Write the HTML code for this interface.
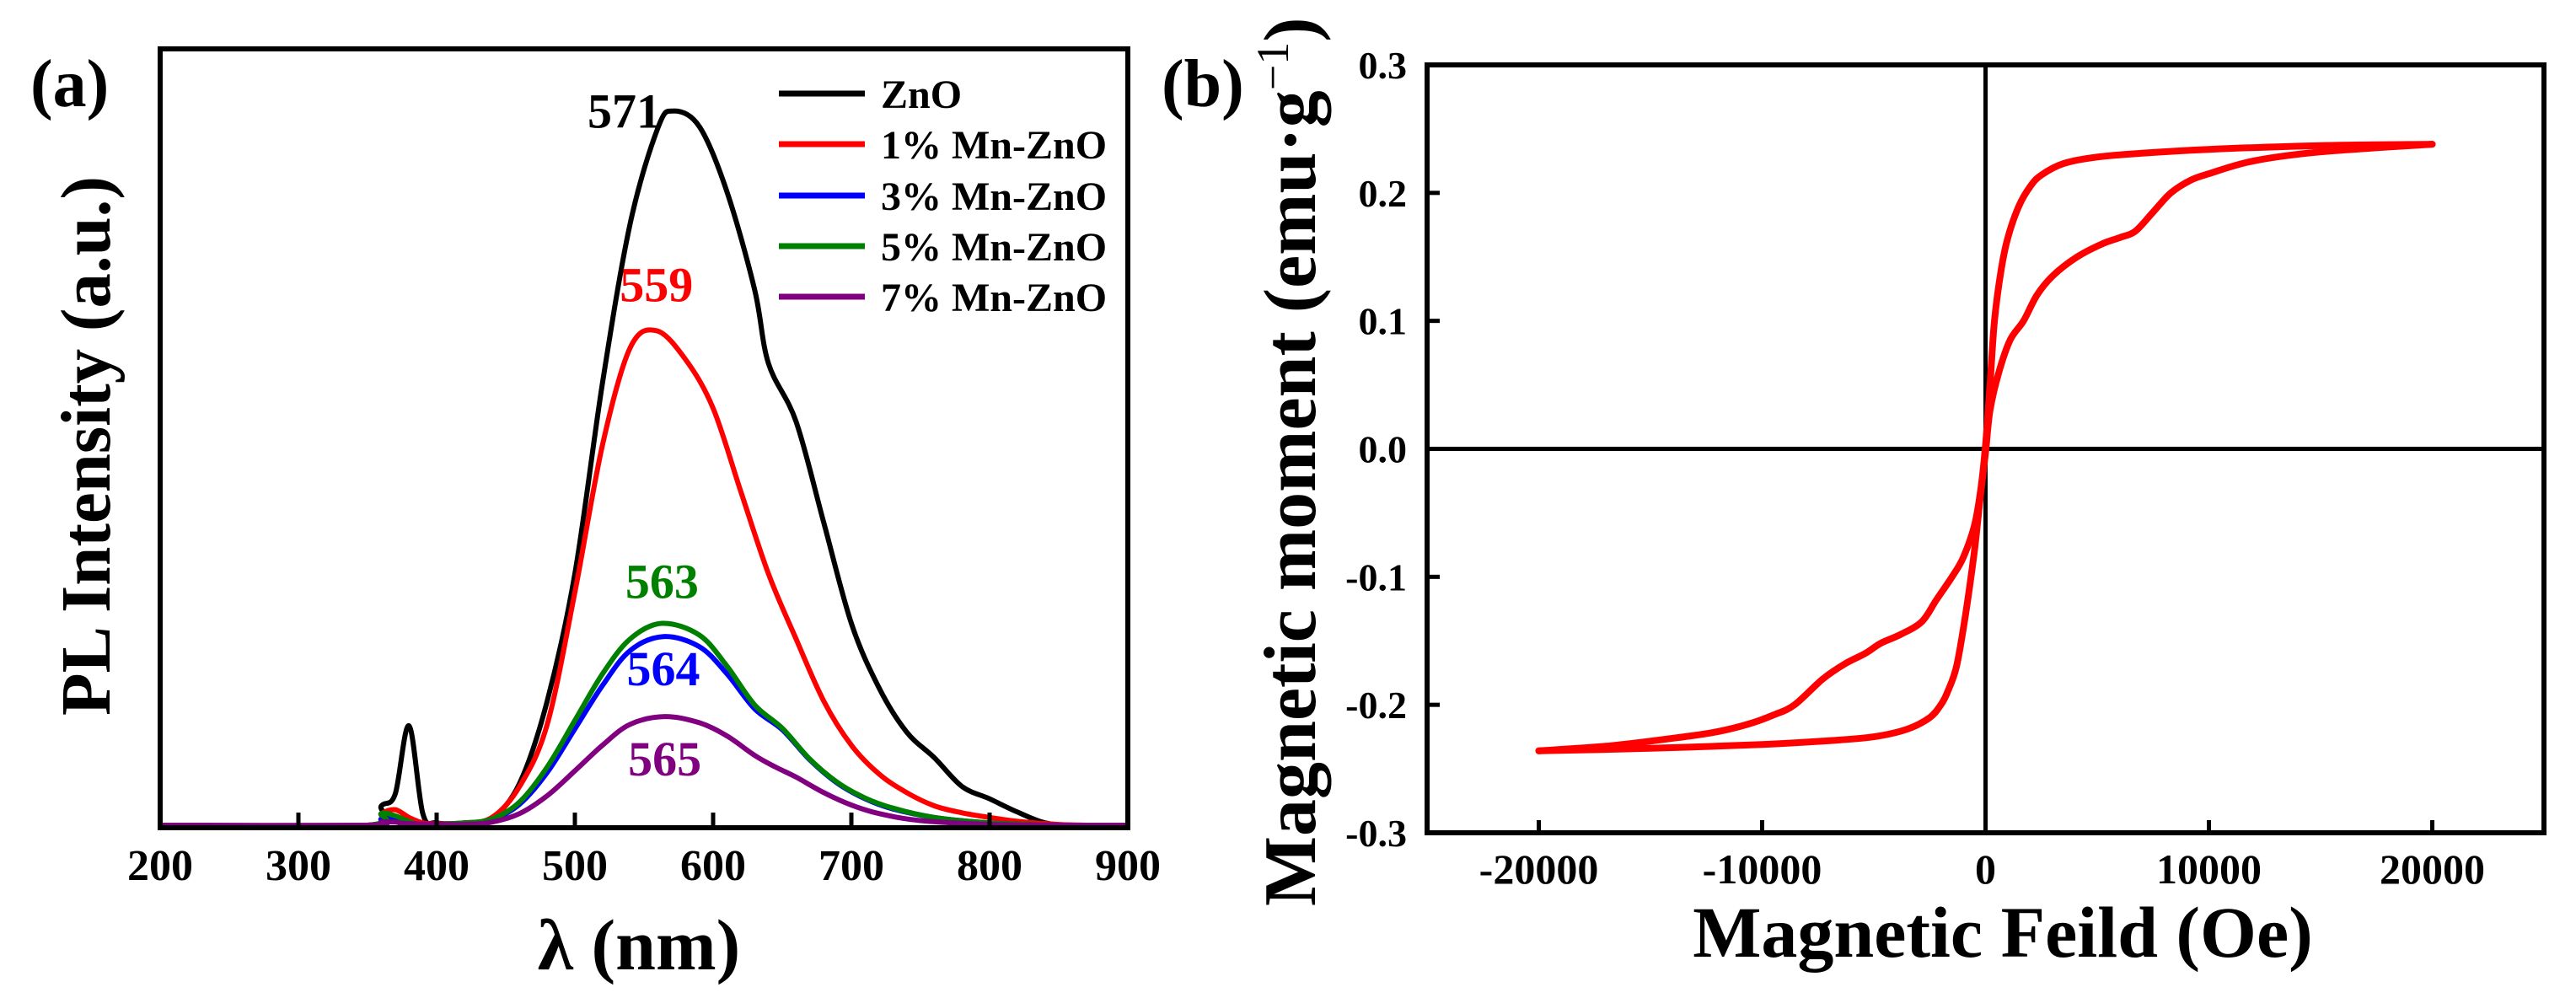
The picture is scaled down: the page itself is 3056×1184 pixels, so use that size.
<!DOCTYPE html>
<html><head><meta charset="utf-8"><style>
html,body{margin:0;padding:0;background:#fff;}
svg{display:block;font-family:"Liberation Serif","DejaVu Serif",serif;font-weight:bold;}
</style></head>
<body>
<svg id="fig" width="3056" height="1184" viewBox="0 0 3056 1184" xmlns="http://www.w3.org/2000/svg">
<rect width="3056" height="1184" fill="#fff"/>
<g id="pa"></g>
<g id="pb"></g>
</svg>
<script>
// ---- Panel (a) data ----
const plXTicks = [200,300,400,500,600,700,800,900];
const znoX = [200,350,360,370,380,390,400,420,440,460,480,500,520,540,560,571,590,610,630,640,660,680,700,720,740,760,780,800,820,840,860,900];
const znoY = [0,0,2.5,4,12.8,1.5,0.3,0.3,0.9,5.4,16,32.4,57,77.5,89.8,92,90,81.6,69,59.5,52,39,26,17.7,12,8.7,5,3.4,1.7,0.3,0,0];
const mn1X = [200,350,360,370,380,390,400,420,440,460,480,500,520,540,559,580,600,620,640,660,680,700,720,740,760,780,800,820,850,870,900];
const mn1Y = [0,0,1.5,2,1,0.3,0.2,0.3,1,5,13,30,49,61.5,63.7,60,53.7,43,32.4,24,16,10.3,6.6,4.2,2.5,1.6,1,0.5,0.1,0,0];
const mn3X = [200,350,360,370,380,390,420,440,460,480,500,520,540,564,590,610,630,650,670,690,710,730,760,800,850,900];
const mn3Y = [0,0,0.8,0.7,0.3,0.1,0.2,0.7,2.7,6.8,12.4,18,22.5,24.3,23,19.5,15,12.3,8.4,5.4,3.4,2.1,1,0.3,0,0];
const mn5X = [200,350,360,370,380,390,420,440,460,480,500,520,540,563,590,610,630,650,670,690,710,730,760,800,850,900];
const mn5Y = [0,0,1.5,1.2,0.5,0.1,0.3,0.8,3,7.5,13.5,19.5,24,26,24.5,20.5,15.5,12.5,8.5,5.5,3.5,2.2,1,0.3,0,0];
const mn7X = [200,350,360,370,380,420,440,460,480,500,520,540,565,590,610,630,645,660,680,700,720,750,800,850,900];
const mn7Y = [0,0,0.4,0.4,0.2,0.1,0.4,1.5,3.8,7,10.3,13,14,13.2,11.5,9,7.5,6.2,4.2,2.6,1.5,0.6,0.1,0,0];
const legendLabels = ["ZnO","1% Mn-ZnO","3% Mn-ZnO","5% Mn-ZnO","7% Mn-ZnO"];
const peakLabels = ["571","559","564","563","565"];
const peakPos = [[571,92],[559,63.7],[564,24.3],[563,26],[565,14]];
// ---- Panel (b) data ----
const hXTicks = [-20000,-10000,0,10000,20000];
const hYTicks = [0.3,0.2,0.1,0.0,-0.1,-0.2,-0.3];
const hYTickLabels = ["0.3","0.2","0.1","0.0","-0.1","-0.2","-0.3"];
const descX = [20000,15000,10000,7000,5000,3500,2500,2000,1500,1000,700,400,200,0,-200,-500,-1000,-1500,-2200,-2850,-3800,-4700,-5400,-6300,-7300,-8550,-9500,-10600,-12000,-13500,-16800,-20000];
const descY = [0.238,0.237,0.234,0.231,0.228,0.223,0.214,0.205,0.19,0.165,0.14,0.1,0.05,0.003,-0.03,-0.06,-0.085,-0.1,-0.118,-0.135,-0.145,-0.152,-0.16,-0.168,-0.18,-0.2,-0.208,-0.215,-0.221,-0.225,-0.232,-0.236];
const ascX = [-20000,-15000,-10000,-7000,-5000,-3500,-2500,-2000,-1700,-1300,-900,-500,-250,0,200,600,1100,1700,2300,3000,4100,5200,6000,6700,7500,8300,9200,10000,12000,15000,20000];
const ascY = [-0.236,-0.234,-0.231,-0.228,-0.225,-0.219,-0.21,-0.2,-0.19,-0.17,-0.13,-0.08,-0.04,-0.003,0.03,0.06,0.085,0.1,0.12,0.135,0.15,0.16,0.165,0.17,0.185,0.2,0.21,0.215,0.225,0.232,0.238];

const NS = "http://www.w3.org/2000/svg";
function mk(parent, tag, attrs, text){
  const e = document.createElementNS(NS, tag);
  for (const k in attrs) e.setAttribute(k, attrs[k]);
  if (text !== undefined) e.textContent = text;
  parent.appendChild(e);
  return e;
}
function smooth(pts){
  let d = "M"+pts[0][0].toFixed(1)+","+pts[0][1].toFixed(1);
  for (let i=0;i<pts.length-1;i++){
    const p0=pts[Math.max(0,i-1)], p1=pts[i], p2=pts[i+1], p3=pts[Math.min(pts.length-1,i+2)];
    const c1=[p1[0]+(p2[0]-p0[0])/6, p1[1]+(p2[1]-p0[1])/6];
    const c2=[p2[0]-(p3[0]-p1[0])/6, p2[1]-(p3[1]-p1[1])/6];
    d+="C"+c1[0].toFixed(1)+","+c1[1].toFixed(1)+" "+c2[0].toFixed(1)+","+c2[1].toFixed(1)+" "+p2[0].toFixed(1)+","+p2[1].toFixed(1);
  }
  return d;
}
// ===== Panel (a) =====
const pa = document.getElementById('pa');
const aL=190, aR=1338, aT=58, aB=982, aBase=979;
const ax = v => aL + (v-200)/(900-200)*(aR-aL);
const ay = v => aBase - v/100*(aBase-aT);
const aSeries = [[znoX,znoY,"#000"],[mn1X,mn1Y,"#ff0000"],[mn3X,mn3Y,"#0000ff"],[mn5X,mn5Y,"#008000"],[mn7X,mn7Y,"#800080"]];
const aNames = ["zno-line","mn1-line","mn3-line","mn5-line","mn7-line"];
aSeries.forEach((s,i)=>{
  const pts = s[0].map((x,j)=>[ax(x), Math.min(aBase, ay(s[1][j]))]);
  const p = mk(pa,"path",{d:smooth(pts),fill:"none",stroke:s[2],"stroke-width":6,"stroke-linejoin":"round"});
  
  
});
const fa = mk(pa,"rect",{x:aL,y:aT,width:aR-aL,height:aB-aT,fill:"none",stroke:"#000","stroke-width":6});


plXTicks.forEach(t=>{
  const l = mk(pa,"line",{x1:ax(t),x2:ax(t),y1:aB,y2:aB-18,stroke:"#000","stroke-width":5});
  
  
  const tx = mk(pa,"text",{x:ax(t),y:1044,"text-anchor":"middle","font-size":52},String(t));
  
  
});
const legY=[111,171,232,292,352];
aSeries.forEach((s,i)=>{
  const l = mk(pa,"line",{x1:924,x2:1026,y1:legY[i],y2:legY[i],stroke:s[2],"stroke-width":7});
  
  
  const t = mk(pa,"text",{x:1045,y:legY[i]+17,"font-size":48},legendLabels[i]);
  
  
});
const peakOff=[[-58,20],[0,-35],[0,58],[0,-30],[0,70]];
const peakCol=["#000","#ff0000","#0000ff","#008000","#800080"];
peakPos.forEach((p,i)=>{
  const t = mk(pa,"text",{x:ax(p[0])+peakOff[i][0],y:ay(p[1])+peakOff[i][1],"text-anchor":"middle","font-size":58,fill:peakCol[i]},peakLabels[i]);
  
  
});
let t;
t = mk(pa,"text",{x:36,y:126,"font-size":80},"(a)");
 
t = mk(pa,"text",{x:0,y:0,"font-size":84,"text-anchor":"middle",transform:"translate(130,529) rotate(-90)",textLength:640,lengthAdjust:"spacingAndGlyphs"},"PL Intensity (a.u.)");
 
t = mk(pa,"text",{x:758,y:1150,"font-size":86,"text-anchor":"middle"},"λ (nm)");
 

// ===== Panel (b) =====
const pb = document.getElementById('pb');
const bL=1693, bR=3018, bT=77, bB=988;
const bx = v => bL + (v+25000)/50000*(bR-bL);
const by = v => bB - (v+0.3)/0.6*(bB-bT);
let z = mk(pb,"line",{x1:bL,x2:bR,y1:by(0),y2:by(0),stroke:"#000","stroke-width":5});
 
z = mk(pb,"line",{x1:bx(0),x2:bx(0),y1:bT,y2:bB,stroke:"#000","stroke-width":5});
 
[[descX,descY,"descending-branch"],[ascX,ascY,"ascending-branch"]].forEach(s=>{
  const pts = s[0].map((x,j)=>[bx(x), by(s[1][j])]);
  const p = mk(pb,"path",{d:smooth(pts),fill:"none",stroke:"#ff0000","stroke-width":8,"stroke-linejoin":"round","stroke-linecap":"round"});
  
  
});
const fb = mk(pb,"rect",{x:bL,y:bT,width:bR-bL,height:bB-bT,fill:"none",stroke:"#000","stroke-width":6});


hXTicks.forEach(v=>{
  const l = mk(pb,"line",{x1:bx(v),x2:bx(v),y1:bB,y2:bB-15,stroke:"#000","stroke-width":5});
  
  
  const tx = mk(pb,"text",{x:bx(v),y:1048,"text-anchor":"middle","font-size":50},String(v));
  
  
});
hYTicks.forEach((v,i)=>{
  const l = mk(pb,"line",{x1:bL,x2:bL+15,y1:by(v),y2:by(v),stroke:"#000","stroke-width":5});
  
  
  const tx = mk(pb,"text",{x:1669,y:by(v)+16,"text-anchor":"end","font-size":46},hYTickLabels[i]);
  
  
});
t = mk(pb,"text",{x:1378,y:126,"font-size":80},"(b)");
 
t = mk(pb,"text",{x:0,y:0,"font-size":88,"text-anchor":"start",transform:"translate(1560,1075) rotate(-90)"});
 
t.appendChild(document.createTextNode("Magnetic moment (emu·g"));
mk(t,"tspan",{dy:-32,"font-size":54,"font-weight":"normal"},"−1");
mk(t,"tspan",{dy:32},")");
t = mk(pb,"text",{x:2376,y:1135,"font-size":86,"text-anchor":"middle"},"Magnetic Feild (Oe)");
 
</script>
</body></html>
